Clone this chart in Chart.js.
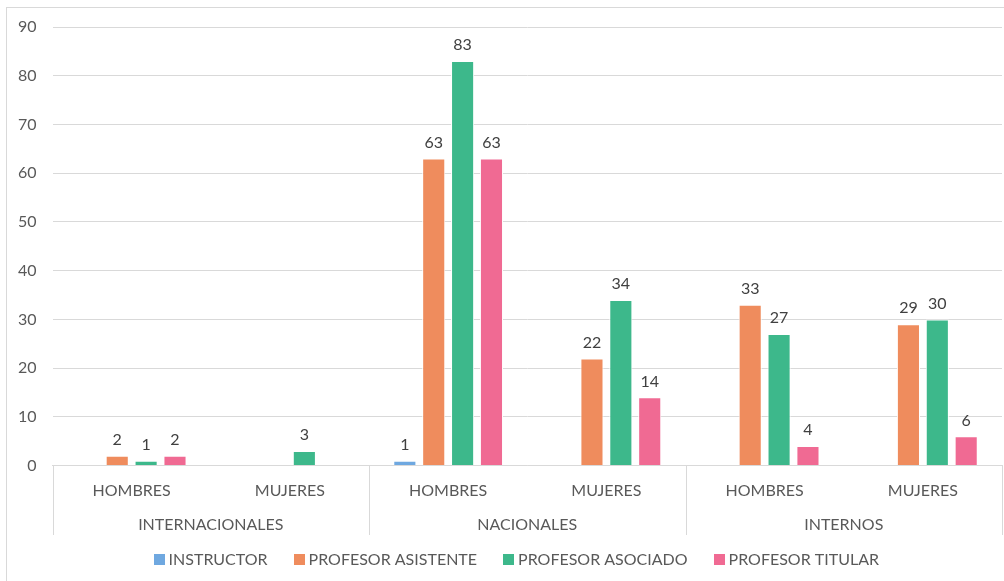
<!DOCTYPE html>
<html>
<head>
<meta charset="utf-8">
<script src="https://cdn.jsdelivr.net/npm/chart.js@4"></script>
<style>
    html, body { margin: 0; padding: 0; background: #fff; }
    #wrap { position: relative; width: 1004px; height: 581px; }
</style>
</head>
<body>
<div id="wrap"><canvas id="profChart"></canvas></div>
<script>
// Datos del gráfico
const subLabels = ['HOMBRES', 'MUJERES', 'HOMBRES', 'MUJERES', 'HOMBRES', 'MUJERES'];
const groupLabels = ['INTERNACIONALES', 'NACIONALES', 'INTERNOS'];

const instructor = [null, null, 1, null, null, null];
const profAsistente = [2, null, 63, 22, 33, 29];
const profAsociado = [1, 3, 83, 34, 27, 30];
const profTitular = [2, null, 63, 14, 4, 6];

const yTicks = { min: 0, max: 90, step: 10 };

const FONT = 'Lato, "Open Sans", sans-serif';
const FSIZE = 16;

// Marco exterior del gráfico
const frame = {
    id: 'frame',
    beforeDraw(chart) {
        const ctx = chart.ctx;
        ctx.save();
        ctx.strokeStyle = '#d9d9d9';
        ctx.lineWidth = 1;
        ctx.strokeRect(6.5, 7.5, 1000, 580);
        ctx.restore();
    }
};

// Separadores entre grupos del eje X
const groupLines = {
    id: 'groupLines',
    afterDraw(chart) {
        const x = chart.scales.x;
        const x2 = chart.scales.x2;
        const ctx = chart.ctx;
        const bounds = [x.left];
        for (let i = 1; i < subLabels.length - 1; i += 2) {
            bounds.push((x.getPixelForValue(i) + x.getPixelForValue(i + 1)) / 2);
        }
        bounds.push(x.right);
        ctx.save();
        ctx.strokeStyle = '#d9d9d9';
        ctx.lineWidth = 1;
        bounds.forEach(b => {
            const px = Math.round(b) + 0.5;
            ctx.beginPath();
            ctx.moveTo(px, x.top);
            ctx.lineTo(px, x2.bottom + 3);
            ctx.stroke();
        });
        ctx.restore();
    }
};

// Etiquetas de valores sobre las barras
const valueLabels = {
    id: 'valueLabels',
    afterDatasetsDraw(chart) {
        const ctx = chart.ctx;
        ctx.save();
        ctx.font = FSIZE + 'px ' + FONT;
        ctx.fillStyle = '#404040';
        ctx.textAlign = 'center';
        ctx.textBaseline = 'bottom';
        chart.data.datasets.forEach((ds, i) => {
            const meta = chart.getDatasetMeta(i);
            meta.data.forEach((bar, j) => {
                const v = ds.data[j];
                if (v === null || v === undefined) return;
                ctx.fillText(v, bar.x, bar.y - 8);
            });
        });
        ctx.restore();
    }
};

// Leyenda inferior dibujada a mano
const bottomLegend = {
    id: 'bottomLegend',
    afterDraw(chart) {
        const ctx = chart.ctx;
        const box = 11, gapText = 4, gapItem = 26;
        ctx.save();
        ctx.font = FSIZE + 'px ' + FONT;
        ctx.textBaseline = 'middle';
        const items = chart.data.datasets.map(ds => ({
            text: ds.label,
            color: ds.backgroundColor,
            w: box + gapText + ctx.measureText(ds.label).width
        }));
        const total = items.reduce((a, it) => a + it.w, 0) + gapItem * (items.length - 1);
        let cx = (chart.chartArea.left + chart.chartArea.right) / 2 - 11 - total / 2;
        const cy = 559;
        items.forEach(it => {
            ctx.fillStyle = it.color;
            ctx.fillRect(Math.round(cx), cy - 5, box, box);
            ctx.fillStyle = '#595959';
            ctx.fillText(it.text, cx + box + gapText, cy + 1);
            cx += it.w + gapItem;
        });
        ctx.restore();
    }
};

function makeDataset(label, data, color) {
    return {
        label: label,
        data: data,
        backgroundColor: color,
        borderColor: '#ffffff',
        borderWidth: 1,
        categoryPercentage: 0.73,
        barPercentage: 0.8
    };
}

const ctx = document.getElementById('profChart').getContext('2d');
new Chart(ctx, {
    type: 'bar',
    data: {
        labels: subLabels,
        datasets: [
            makeDataset('INSTRUCTOR', instructor, '#6fa8e0'),
            makeDataset('PROFESOR ASISTENTE', profAsistente, '#ef8c5d'),
            makeDataset('PROFESOR ASOCIADO', profAsociado, '#3db88b'),
            makeDataset('PROFESOR TITULAR', profTitular, '#f06a93')
        ]
    },
    options: {
        responsive: true,
        maintainAspectRatio: false,
        animation: false,
        layout: {
            padding: { left: 2, right: 2, top: 27, bottom: 49 }
        },
        plugins: {
            legend: { display: false },
            tooltip: { enabled: false }
        },
        scales: {
            x: {
                grid: { display: false },
                border: { display: true, color: '#d9d9d9' },
                ticks: {
                    color: '#595959',
                    padding: 8,
                    font: { family: FONT, size: FSIZE }
                }
            },
            x2: {
                type: 'category',
                labels: groupLabels,
                position: 'bottom',
                offset: true,
                grid: { display: false },
                border: { display: false },
                ticks: {
                    color: '#595959',
                    padding: -2,
                    font: { family: FONT, size: FSIZE }
                }
            },
            y: {
                min: yTicks.min,
                max: yTicks.max,
                ticks: {
                    stepSize: yTicks.step,
                    color: '#595959',
                    padding: 16,
                    font: { family: FONT, size: FSIZE }
                },
                grid: { color: '#d9d9d9', drawTicks: false },
                border: { display: false }
            }
        }
    },
    plugins: [frame, groupLines, valueLabels, bottomLegend]
});
</script>
</body>
</html>
